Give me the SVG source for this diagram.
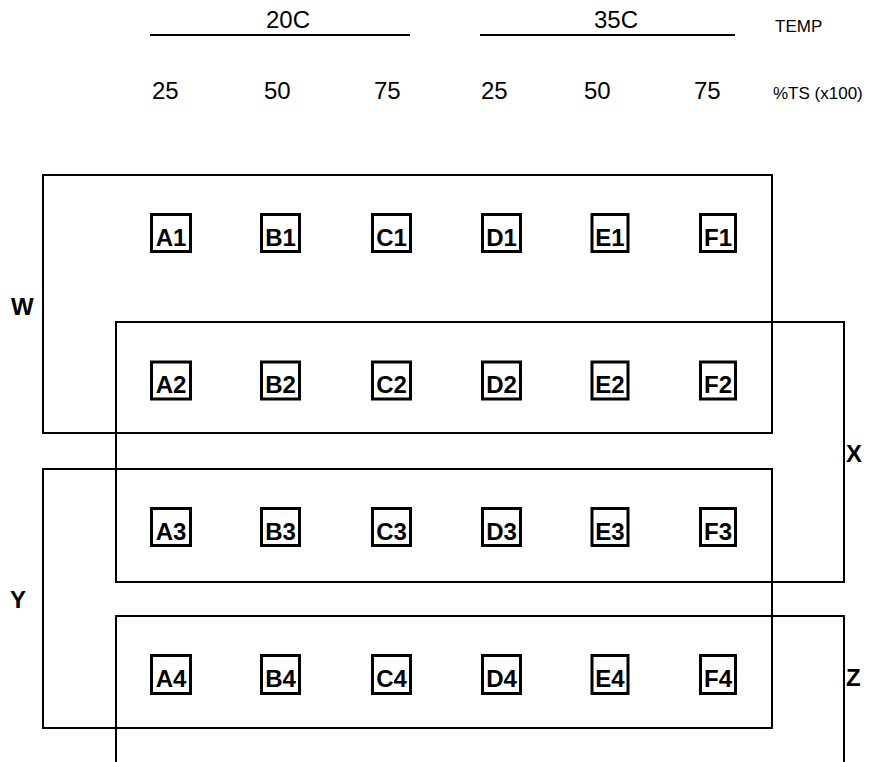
<svg xmlns="http://www.w3.org/2000/svg" width="869" height="762" viewBox="0 0 869 762">
<style>
text{font-family:"Liberation Sans",Arial,sans-serif;fill:#000}
.hdr{font-size:24px}
.sm{font-size:17px}
.lbl{font-size:24px;font-weight:bold}
.cell{font-size:24px;font-weight:bold;text-anchor:middle}
.grp{fill:none;stroke:#000;stroke-width:2}
.box{fill:#fff;stroke:#000;stroke-width:3}
.rule{stroke:#000;stroke-width:2}
</style>
<rect width="869" height="762" fill="#fff"/>
<g id="header">
<line class="rule" x1="150" y1="35" x2="410" y2="35"/>
<line class="rule" x1="480" y1="35" x2="735" y2="35"/>
<text class="hdr" x="288" y="28" text-anchor="middle">20C</text>
<text class="hdr" x="616" y="28" text-anchor="middle">35C</text>
<text class="sm" x="775" y="32">TEMP</text>
<text class="hdr" x="152" y="99">25</text>
<text class="hdr" x="264" y="99">50</text>
<text class="hdr" x="374" y="99">75</text>
<text class="hdr" x="481" y="99">25</text>
<text class="hdr" x="584" y="99">50</text>
<text class="hdr" x="694" y="99">75</text>
<text class="sm" x="773" y="99">%TS (x100)</text>
</g>
<g id="group-W"><rect class="grp" x="43" y="175" width="729" height="258"/><text class="lbl" x="11" y="315">W</text></g>
<g id="group-X"><rect class="grp" x="116" y="322" width="728" height="260"/><text class="lbl" x="846" y="462">X</text></g>
<g id="group-Y"><rect class="grp" x="43" y="469" width="729" height="259"/><text class="lbl" x="10" y="608">Y</text></g>
<g id="group-Z"><path class="grp" d="M116,770 V616 H844 V770"/><text class="lbl" x="846" y="686">Z</text></g>
<g id="connectors"/>
<g id="row1">
<g id="A1"><rect class="box" x="151.5" y="214.5" width="39" height="37"/><text class="cell" x="171" y="245.5">A1</text></g>
<g id="B1"><rect class="box" x="261.5" y="214.5" width="38" height="37"/><text class="cell" x="280.5" y="245.5">B1</text></g>
<g id="C1"><rect class="box" x="372.5" y="214.5" width="38" height="37"/><text class="cell" x="391.5" y="245.5">C1</text></g>
<g id="D1"><rect class="box" x="482.5" y="214.5" width="38" height="37"/><text class="cell" x="501.5" y="245.5">D1</text></g>
<g id="E1"><rect class="box" x="592" y="214.5" width="36" height="37"/><text class="cell" x="610" y="245.5">E1</text></g>
<g id="F1"><rect class="box" x="700.5" y="214.5" width="35" height="37"/><text class="cell" x="718" y="245.5">F1</text></g>
</g>
<g id="row2">
<g id="A2"><rect class="box" x="151.5" y="362" width="39" height="37"/><text class="cell" x="171" y="393">A2</text></g>
<g id="B2"><rect class="box" x="261.5" y="362" width="38" height="37"/><text class="cell" x="280.5" y="393">B2</text></g>
<g id="C2"><rect class="box" x="372.5" y="362" width="38" height="37"/><text class="cell" x="391.5" y="393">C2</text></g>
<g id="D2"><rect class="box" x="482.5" y="362" width="38" height="37"/><text class="cell" x="501.5" y="393">D2</text></g>
<g id="E2"><rect class="box" x="592" y="362" width="36" height="37"/><text class="cell" x="610" y="393">E2</text></g>
<g id="F2"><rect class="box" x="700.5" y="362" width="35" height="37"/><text class="cell" x="718" y="393">F2</text></g>
</g>
<g id="row3">
<g id="A3"><rect class="box" x="151.5" y="508.5" width="39" height="37"/><text class="cell" x="171" y="539.5">A3</text></g>
<g id="B3"><rect class="box" x="261.5" y="508.5" width="38" height="37"/><text class="cell" x="280.5" y="539.5">B3</text></g>
<g id="C3"><rect class="box" x="372.5" y="508.5" width="38" height="37"/><text class="cell" x="391.5" y="539.5">C3</text></g>
<g id="D3"><rect class="box" x="482.5" y="508.5" width="38" height="37"/><text class="cell" x="501.5" y="539.5">D3</text></g>
<g id="E3"><rect class="box" x="592" y="508.5" width="36" height="37"/><text class="cell" x="610" y="539.5">E3</text></g>
<g id="F3"><rect class="box" x="700.5" y="508.5" width="35" height="37"/><text class="cell" x="718" y="539.5">F3</text></g>
</g>
<g id="row4">
<g id="A4"><rect class="box" x="151.5" y="655.5" width="39" height="38"/><text class="cell" x="171" y="686.5">A4</text></g>
<g id="B4"><rect class="box" x="261.5" y="655.5" width="38" height="38"/><text class="cell" x="280.5" y="686.5">B4</text></g>
<g id="C4"><rect class="box" x="372.5" y="655.5" width="38" height="38"/><text class="cell" x="391.5" y="686.5">C4</text></g>
<g id="D4"><rect class="box" x="482.5" y="655.5" width="38" height="38"/><text class="cell" x="501.5" y="686.5">D4</text></g>
<g id="E4"><rect class="box" x="592" y="655.5" width="36" height="38"/><text class="cell" x="610" y="686.5">E4</text></g>
<g id="F4"><rect class="box" x="700.5" y="655.5" width="35" height="38"/><text class="cell" x="718" y="686.5">F4</text></g>
</g>
</svg>
